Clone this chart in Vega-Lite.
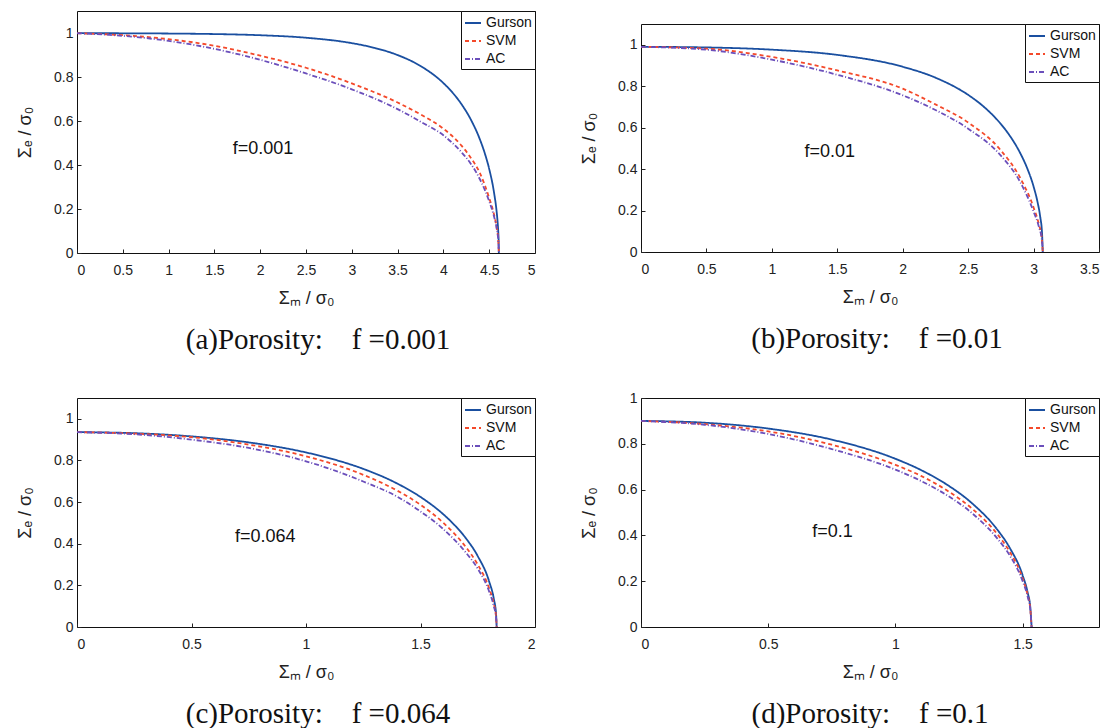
{
  "$schema": "https://vega.github.io/schema/vega-lite/v6.json",
  "padding": {"left": 16, "top": 10, "right": 0, "bottom": 0},
  "background": "white",
  "datasets": {
    "pa": [
      {"x":0,"y":0.999,"m":"Gurson"},{"x":0.5,"y":0.9987,"m":"Gurson"},{"x":1,"y":0.9976,"m":"Gurson"},{"x":1.5,"y":0.9952,"m":"Gurson"},{"x":2,"y":0.9899,"m":"Gurson"},{"x":2.5,"y":0.9785,"m":"Gurson"},{"x":3,"y":0.9539,"m":"Gurson"},{"x":3.25,"y":0.9322,"m":"Gurson"},{"x":3.5,"y":0.8997,"m":"Gurson"},{"x":3.75,"y":0.8501,"m":"Gurson"},{"x":4,"y":0.7724,"m":"Gurson"},{"x":4.1,"y":0.7289,"m":"Gurson"},{"x":4.2,"y":0.6749,"m":"Gurson"},{"x":4.3,"y":0.6061,"m":"Gurson"},{"x":4.4,"y":0.5147,"m":"Gurson"},{"x":4.45,"y":0.4557,"m":"Gurson"},{"x":4.5,"y":0.382,"m":"Gurson"},{"x":4.55,"y":0.2818,"m":"Gurson"},{"x":4.58,"y":0.1925,"m":"Gurson"},{"x":4.59,"y":0.15,"m":"Gurson"},{"x":4.6,"y":0.0879,"m":"Gurson"},{"x":4.603,"y":0.0571,"m":"Gurson"},{"x":4.6052,"y":0,"m":"Gurson"},
      {"x":0,"y":0.999,"m":"SVM"},{"x":0.5,"y":0.99,"m":"SVM"},{"x":1,"y":0.972,"m":"SVM"},{"x":1.5,"y":0.942,"m":"SVM"},{"x":2,"y":0.897,"m":"SVM"},{"x":2.5,"y":0.842,"m":"SVM"},{"x":3,"y":0.771,"m":"SVM"},{"x":3.5,"y":0.684,"m":"SVM"},{"x":3.75,"y":0.63,"m":"SVM"},{"x":4,"y":0.565,"m":"SVM"},{"x":4.2,"y":0.487,"m":"SVM"},{"x":4.3,"y":0.432,"m":"SVM"},{"x":4.4,"y":0.362,"m":"SVM"},{"x":4.5,"y":0.25,"m":"SVM"},{"x":4.55,"y":0.18,"m":"SVM"},{"x":4.58,"y":0.12,"m":"SVM"},{"x":4.6,"y":0.054,"m":"SVM"},{"x":4.6052,"y":0,"m":"SVM"},
      {"x":0,"y":0.999,"m":"AC"},{"x":0.5,"y":0.987,"m":"AC"},{"x":1,"y":0.964,"m":"AC"},{"x":1.5,"y":0.928,"m":"AC"},{"x":2,"y":0.878,"m":"AC"},{"x":2.5,"y":0.816,"m":"AC"},{"x":3,"y":0.744,"m":"AC"},{"x":3.5,"y":0.654,"m":"AC"},{"x":3.75,"y":0.597,"m":"AC"},{"x":4,"y":0.535,"m":"AC"},{"x":4.2,"y":0.457,"m":"AC"},{"x":4.3,"y":0.405,"m":"AC"},{"x":4.4,"y":0.334,"m":"AC"},{"x":4.5,"y":0.235,"m":"AC"},{"x":4.55,"y":0.17,"m":"AC"},{"x":4.58,"y":0.115,"m":"AC"},{"x":4.6,"y":0.05,"m":"AC"},{"x":4.6052,"y":0,"m":"AC"}
    ],
    "pb": [
      {"x":0,"y":0.99,"m":"Gurson"},{"x":0.5,"y":0.987,"m":"Gurson"},{"x":1,"y":0.9762,"m":"Gurson"},{"x":1.5,"y":0.9509,"m":"Gurson"},{"x":2,"y":0.8937,"m":"Gurson"},{"x":2.25,"y":0.8411,"m":"Gurson"},{"x":2.5,"y":0.7581,"m":"Gurson"},{"x":2.6,"y":0.7113,"m":"Gurson"},{"x":2.7,"y":0.6526,"m":"Gurson"},{"x":2.75,"y":0.6175,"m":"Gurson"},{"x":2.8,"y":0.5772,"m":"Gurson"},{"x":2.9,"y":0.4746,"m":"Gurson"},{"x":2.95,"y":0.4062,"m":"Gurson"},{"x":3,"y":0.3159,"m":"Gurson"},{"x":3.03,"y":0.2419,"m":"Gurson"},{"x":3.05,"y":0.1729,"m":"Gurson"},{"x":3.065,"y":0.0877,"m":"Gurson"},{"x":3.0701,"y":0,"m":"Gurson"},
      {"x":0,"y":0.99,"m":"SVM"},{"x":0.5,"y":0.981,"m":"SVM"},{"x":1,"y":0.941,"m":"SVM"},{"x":1.5,"y":0.876,"m":"SVM"},{"x":2,"y":0.788,"m":"SVM"},{"x":2.25,"y":0.712,"m":"SVM"},{"x":2.5,"y":0.625,"m":"SVM"},{"x":2.75,"y":0.49,"m":"SVM"},{"x":2.9,"y":0.355,"m":"SVM"},{"x":3,"y":0.215,"m":"SVM"},{"x":3.04,"y":0.135,"m":"SVM"},{"x":3.065,"y":0.055,"m":"SVM"},{"x":3.0701,"y":0,"m":"SVM"},
      {"x":0,"y":0.99,"m":"AC"},{"x":0.5,"y":0.976,"m":"AC"},{"x":1,"y":0.928,"m":"AC"},{"x":1.5,"y":0.855,"m":"AC"},{"x":2,"y":0.756,"m":"AC"},{"x":2.25,"y":0.685,"m":"AC"},{"x":2.5,"y":0.595,"m":"AC"},{"x":2.75,"y":0.465,"m":"AC"},{"x":2.9,"y":0.335,"m":"AC"},{"x":3,"y":0.195,"m":"AC"},{"x":3.04,"y":0.123,"m":"AC"},{"x":3.065,"y":0.05,"m":"AC"},{"x":3.0701,"y":0,"m":"AC"}
    ],
    "pc": [
      {"x":0,"y":0.936,"m":"Gurson"},{"x":0.25,"y":0.9311,"m":"Gurson"},{"x":0.5,"y":0.9156,"m":"Gurson"},{"x":0.75,"y":0.8867,"m":"Gurson"},{"x":1,"y":0.8385,"m":"Gurson"},{"x":1.1,"y":0.8115,"m":"Gurson"},{"x":1.25,"y":0.7596,"m":"Gurson"},{"x":1.4,"y":0.6882,"m":"Gurson"},{"x":1.5,"y":0.6246,"m":"Gurson"},{"x":1.6,"y":0.5411,"m":"Gurson"},{"x":1.65,"y":0.4881,"m":"Gurson"},{"x":1.7,"y":0.4236,"m":"Gurson"},{"x":1.75,"y":0.3406,"m":"Gurson"},{"x":1.8,"y":0.2179,"m":"Gurson"},{"x":1.82,"y":0.1365,"m":"Gurson"},{"x":1.83,"y":0.0625,"m":"Gurson"},{"x":1.8326,"y":0,"m":"Gurson"},
      {"x":0,"y":0.936,"m":"SVM"},{"x":0.25,"y":0.929,"m":"SVM"},{"x":0.5,"y":0.912,"m":"SVM"},{"x":0.75,"y":0.876,"m":"SVM"},{"x":1,"y":0.82,"m":"SVM"},{"x":1.25,"y":0.731,"m":"SVM"},{"x":1.4,"y":0.654,"m":"SVM"},{"x":1.5,"y":0.587,"m":"SVM"},{"x":1.6,"y":0.5,"m":"SVM"},{"x":1.7,"y":0.381,"m":"SVM"},{"x":1.75,"y":0.3,"m":"SVM"},{"x":1.8,"y":0.185,"m":"SVM"},{"x":1.82,"y":0.112,"m":"SVM"},{"x":1.83,"y":0.05,"m":"SVM"},{"x":1.8326,"y":0,"m":"SVM"},
      {"x":0,"y":0.936,"m":"AC"},{"x":0.25,"y":0.926,"m":"AC"},{"x":0.5,"y":0.9,"m":"AC"},{"x":0.75,"y":0.86,"m":"AC"},{"x":1,"y":0.796,"m":"AC"},{"x":1.25,"y":0.699,"m":"AC"},{"x":1.4,"y":0.625,"m":"AC"},{"x":1.5,"y":0.555,"m":"AC"},{"x":1.6,"y":0.47,"m":"AC"},{"x":1.7,"y":0.355,"m":"AC"},{"x":1.75,"y":0.28,"m":"AC"},{"x":1.8,"y":0.17,"m":"AC"},{"x":1.82,"y":0.1,"m":"AC"},{"x":1.83,"y":0.045,"m":"AC"},{"x":1.8326,"y":0,"m":"AC"}
    ],
    "pd": [
      {"x":0,"y":0.9,"m":"Gurson"},{"x":0.25,"y":0.8921,"m":"Gurson"},{"x":0.5,"y":0.8666,"m":"Gurson"},{"x":0.75,"y":0.8182,"m":"Gurson"},{"x":1,"y":0.7345,"m":"Gurson"},{"x":1.1,"y":0.6856,"m":"Gurson"},{"x":1.2,"y":0.6233,"m":"Gurson"},{"x":1.3,"y":0.5412,"m":"Gurson"},{"x":1.4,"y":0.4256,"m":"Gurson"},{"x":1.45,"y":0.3442,"m":"Gurson"},{"x":1.5,"y":0.2252,"m":"Gurson"},{"x":1.52,"y":0.1487,"m":"Gurson"},{"x":1.53,"y":0.0865,"m":"Gurson"},{"x":1.5351,"y":0,"m":"Gurson"},
      {"x":0,"y":0.9,"m":"SVM"},{"x":0.25,"y":0.886,"m":"SVM"},{"x":0.5,"y":0.854,"m":"SVM"},{"x":0.75,"y":0.796,"m":"SVM"},{"x":1,"y":0.708,"m":"SVM"},{"x":1.1,"y":0.66,"m":"SVM"},{"x":1.2,"y":0.598,"m":"SVM"},{"x":1.3,"y":0.518,"m":"SVM"},{"x":1.4,"y":0.406,"m":"SVM"},{"x":1.45,"y":0.327,"m":"SVM"},{"x":1.5,"y":0.212,"m":"SVM"},{"x":1.52,"y":0.138,"m":"SVM"},{"x":1.53,"y":0.08,"m":"SVM"},{"x":1.5351,"y":0,"m":"SVM"},
      {"x":0,"y":0.9,"m":"AC"},{"x":0.25,"y":0.883,"m":"AC"},{"x":0.5,"y":0.843,"m":"AC"},{"x":0.75,"y":0.777,"m":"AC"},{"x":1,"y":0.687,"m":"AC"},{"x":1.1,"y":0.638,"m":"AC"},{"x":1.2,"y":0.577,"m":"AC"},{"x":1.3,"y":0.498,"m":"AC"},{"x":1.4,"y":0.387,"m":"AC"},{"x":1.45,"y":0.311,"m":"AC"},{"x":1.5,"y":0.2,"m":"AC"},{"x":1.52,"y":0.131,"m":"AC"},{"x":1.53,"y":0.075,"m":"AC"},{"x":1.5351,"y":0,"m":"AC"}
    ]
  },
  "config": {
    "font": "Liberation Sans",
    "view": {"stroke": "#111", "strokeWidth": 1},
    "axis": {"labelFont": "Liberation Sans", "labelFontSize": 14, "labelColor": "#222", "titleFont": "Liberation Sans", "titleFontSize": 18, "titleFontWeight": "normal", "titleColor": "#222", "domain": false, "grid": false, "tickColor": "#222", "tickSize": -4, "tickWidth": 1, "format": "~g"},
    "axisX": {"titlePadding": 12, "labelPadding": 14},
    "axisY": {"titlePadding": 19, "labelPadding": 8},
    "legend": {"orient": "top-right", "offset": 0, "strokeColor": "#111", "fillColor": "#fff", "padding": 3, "labelFont": "Liberation Sans", "labelFontSize": 14, "labelColor": "#111", "symbolType": "stroke", "symbolSize": 256, "symbolStrokeWidth": 1.8, "rowPadding": 2, "labelOffset": 4, "cornerRadius": 0},
    "title": {"font": "Liberation Serif", "fontSize": 29, "fontWeight": "normal", "color": "#111", "orient": "bottom", "offset": 19, "anchor": "middle"},
    "text": {"font": "Liberation Sans", "fontSize": 18, "color": "#111"},
    "line": {"interpolate": "monotone"}
  },
  "resolve": {"scale": {"color": "independent", "strokeDash": "independent"}},
  "spacing": 44,
  "hconcat": [
    {
      "spacing": 41,
      "resolve": {"scale": {"color": "independent", "strokeDash": "independent"}},
      "vconcat": [
        {
          "width": 458, "height": 242,
          "title": {"text": "(a)Porosity:\u00a0\u00a0\u00a0\u00a0f =0.001", "dx": 12},
          "layer": [
            {"data": {"name": "pa"}, "mark": {"type": "line", "strokeWidth": 1.8},
             "encoding": {
               "x": {"field": "x", "type": "quantitative", "scale": {"domain": [0, 5], "nice": false}, "axis": {"values": [0,0.5,1,1.5,2,2.5,3,3.5,4,4.5,5], "title": "Σₘ / σ₀"}},
               "y": {"field": "y", "type": "quantitative", "scale": {"domain": [0, 1.1], "nice": false}, "axis": {"values": [0,0.2,0.4,0.6,0.8,1], "title": "Σₑ / σ₀"}},
               "color": {"field": "m", "type": "nominal", "scale": {"domain": ["Gurson","SVM","AC"], "range": ["#1a4fa0","#f4492a","#6b4fbb"]}, "legend": {"title": null}},
               "strokeDash": {"field": "m", "type": "nominal", "scale": {"domain": ["Gurson","SVM","AC"], "range": [[1,0],[4,3],[5,2,1,2]]}, "legend": {"title": null}}
             }},
            {"data": {"values": [{"label": "f=0.001"}]}, "mark": {"type": "text", "align": "left", "baseline": "middle"},
             "encoding": {"x": {"datum": 1.7, "type": "quantitative"}, "y": {"datum": 0.473, "type": "quantitative"}, "text": {"field": "label"}}}
          ]
        },
        {
          "width": 458, "height": 229,
          "title": {"text": "(c)Porosity:\u00a0\u00a0\u00a0\u00a0f =0.064", "dx": 12},
          "layer": [
            {"data": {"name": "pc"}, "mark": {"type": "line", "strokeWidth": 1.8},
             "encoding": {
               "x": {"field": "x", "type": "quantitative", "scale": {"domain": [0, 2], "nice": false}, "axis": {"values": [0,0.5,1,1.5,2], "title": "Σₘ / σ₀"}},
               "y": {"field": "y", "type": "quantitative", "scale": {"domain": [0, 1.1], "nice": false}, "axis": {"values": [0,0.2,0.4,0.6,0.8,1], "title": "Σₑ / σ₀"}},
               "color": {"field": "m", "type": "nominal", "scale": {"domain": ["Gurson","SVM","AC"], "range": ["#1a4fa0","#f4492a","#6b4fbb"]}, "legend": {"title": null}},
               "strokeDash": {"field": "m", "type": "nominal", "scale": {"domain": ["Gurson","SVM","AC"], "range": [[1,0],[4,3],[5,2,1,2]]}, "legend": {"title": null}}
             }},
            {"data": {"values": [{"label": "f=0.064"}]}, "mark": {"type": "text", "align": "left", "baseline": "middle"},
             "encoding": {"x": {"datum": 0.69, "type": "quantitative"}, "y": {"datum": 0.43, "type": "quantitative"}, "text": {"field": "label"}}}
          ]
        }
      ]
    },
    {
      "spacing": 35,
      "resolve": {"scale": {"color": "independent", "strokeDash": "independent"}},
      "vconcat": [
        {
          "spacing": 11,
          "resolve": {"scale": {"color": "independent", "strokeDash": "independent"}},
          "vconcat": [
            {"width": 458, "height": 1, "data": {"values": []}, "mark": {"type": "rule"}, "encoding": {}, "view": {"stroke": null, "fill": "white"}},
            {
              "width": 458, "height": 228,
              "title": {"text": "(b)Porosity:\u00a0\u00a0\u00a0\u00a0f =0.01", "dx": 7},
              "layer": [
                {"data": {"name": "pb"}, "mark": {"type": "line", "strokeWidth": 1.8},
                 "encoding": {
                   "x": {"field": "x", "type": "quantitative", "scale": {"domain": [0, 3.5], "nice": false}, "axis": {"values": [0,0.5,1,1.5,2,2.5,3,3.5], "title": "Σₘ / σ₀"}},
                   "y": {"field": "y", "type": "quantitative", "scale": {"domain": [0, 1.1], "nice": false}, "axis": {"values": [0,0.2,0.4,0.6,0.8,1], "title": "Σₑ / σ₀"}},
                   "color": {"field": "m", "type": "nominal", "scale": {"domain": ["Gurson","SVM","AC"], "range": ["#1a4fa0","#f4492a","#6b4fbb"]}, "legend": {"title": null}},
                   "strokeDash": {"field": "m", "type": "nominal", "scale": {"domain": ["Gurson","SVM","AC"], "range": [[1,0],[4,3],[5,2,1,2]]}, "legend": {"title": null}}
                 }},
                {"data": {"values": [{"label": "f=0.01"}]}, "mark": {"type": "text", "align": "left", "baseline": "middle"},
                 "encoding": {"x": {"datum": 1.25, "type": "quantitative"}, "y": {"datum": 0.483, "type": "quantitative"}, "text": {"field": "label"}}}
              ]
            }
          ]
        },
        {
          "width": 458, "height": 229,
          "title": {"text": "(d)Porosity:\u00a0\u00a0\u00a0\u00a0f =0.1", "dx": 0},
          "layer": [
            {"data": {"name": "pd"}, "mark": {"type": "line", "strokeWidth": 1.8},
             "encoding": {
               "x": {"field": "x", "type": "quantitative", "scale": {"domain": [0, 1.8], "nice": false}, "axis": {"values": [0,0.5,1,1.5], "title": "Σₘ / σ₀"}},
               "y": {"field": "y", "type": "quantitative", "scale": {"domain": [0, 1], "nice": false}, "axis": {"values": [0,0.2,0.4,0.6,0.8,1], "title": "Σₑ / σ₀"}},
               "color": {"field": "m", "type": "nominal", "scale": {"domain": ["Gurson","SVM","AC"], "range": ["#1a4fa0","#f4492a","#6b4fbb"]}, "legend": {"title": null}},
               "strokeDash": {"field": "m", "type": "nominal", "scale": {"domain": ["Gurson","SVM","AC"], "range": [[1,0],[4,3],[5,2,1,2]]}, "legend": {"title": null}}
             }},
            {"data": {"values": [{"label": "f=0.1"}]}, "mark": {"type": "text", "align": "left", "baseline": "middle"},
             "encoding": {"x": {"datum": 0.673, "type": "quantitative"}, "y": {"datum": 0.415, "type": "quantitative"}, "text": {"field": "label"}}}
          ]
        }
      ]
    }
  ]
}
